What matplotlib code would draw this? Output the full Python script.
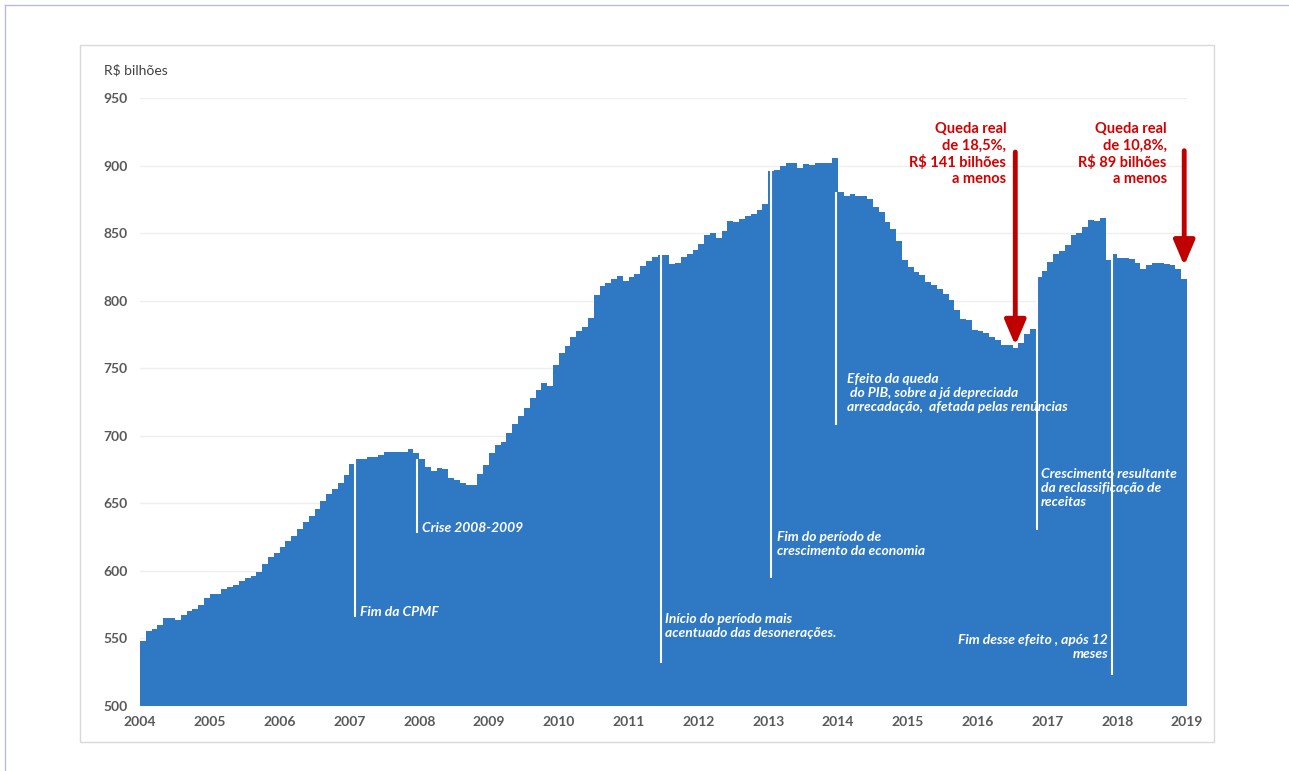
import numpy as np
import matplotlib
matplotlib.use("Agg")
import matplotlib.pyplot as plt
from matplotlib.patches import Rectangle
from matplotlib.lines import Line2D

plt.rcParams['font.family'] = ['Lato', 'DejaVu Sans']

# monthly revenue, R$ billions, Jan 2004 .. Dec 2018
v2004 = [548, 555.5, 557, 560, 565, 565, 564, 567, 570.5, 572, 575, 579.6]
v2005 = [583, 583, 586.5, 588, 589.5, 592.5, 594.4, 596.4, 598.9, 604.8, 610, 613.4]
v2006 = [617.4, 622, 625.7, 631, 636, 640.8, 645.7, 651.9, 656.6, 660.3, 664.7, 670.9]
v2007 = [679, 683, 683, 684, 684, 686, 688, 688, 688, 688, 690, 687]
v2008 = [682.7, 676.8, 673.8, 676.3, 675.3, 668.9, 667.2, 664.7, 663.2, 663.2, 671.6, 678.3]
v2009 = [686.9, 693, 695.5, 702.2, 708.6, 714.7, 720.6, 727.8, 733.7, 738.7, 736.9, 752.2]
v2010 = [760.9, 766.8, 773.2, 777.4, 780.6, 787.5, 804, 810.9, 813.1, 815.8, 818.3, 814.6]
v2011 = [817.5, 820, 825.4, 829.3, 832.6, 834, 834.1, 826.9, 827.9, 832.3, 834.8, 837.7]
v2012 = [841.9, 848.8, 850, 846.3, 851.3, 858.7, 858.2, 860.7, 862.9, 864.4, 867.4, 871.8]
v2013 = [896, 897, 900, 902.2, 902.2, 898.2, 901.2, 900.2, 901.7, 901.7, 901.7, 905.3]
v2014 = [880.4, 877.7, 879.2, 877.4, 877.4, 875, 869.3, 865.4, 858.2, 853.3, 843.9, 830.4]
v2015 = [825, 821.3, 818.8, 813.9, 811.9, 809, 804.7, 800.3, 793, 786.2, 785.5, 778.6]
v2016 = [777.4, 775.7, 773.2, 770.7, 767.5, 767.5, 764.6, 768.7, 775, 778.9, 817.5, 822]
v2017 = [828.7, 834.8, 836.8, 841, 848.4, 850, 854.5, 859.5, 858.7, 861.2, 829.9, 834.8]
v2018 = [831.6, 831.6, 830.6, 828.2, 823.8, 826.7, 827.9, 827.9, 827, 826.2, 823.8, 816.4]

values = (v2004 + v2005 + v2006 + v2007 + v2008 + v2009 + v2010 + v2011 +
          v2012 + v2013 + v2014 + v2015 + v2016 + v2017 + v2018)
months = 2004 + np.arange(len(values)) / 12.0
years = list(range(2004, 2020))

# annotations (white lines + texts)
note_x = [2007.08, 2007.97, 2011.46, 2013.04, 2013.97, 2016.85, 2017.93]
note_bottom = [566, 628, 532, 595, 708, 630, 523]
note_texts = ["Fim da CPMF",
              "Crise 2008-2009",
              "Início do período mais\nacentuado das desonerações.",
              "Fim do período de\ncrescimento da economia",
              "Efeito da queda\n do PIB, sobre a já depreciada\narrecadação,  afetada pelas renúncias",
              "Crescimento resultante\nda reclassificação de\nreceitas",
              "Fim desse efeito , após 12\nmeses"]
note_tx = [2007.15, 2008.04, 2011.52, 2013.13, 2014.13, 2016.91, 2017.87]
note_ty = [569.5, 631.7, 559.5, 620, 731.5, 661.2, 543.3]
note_ha = ['left', 'left', 'left', 'left', 'left', 'left', 'right']

red_texts = ["Queda real\nde 18,5%,\nR$ 141 bilhões\na menos",
             "Queda real\nde 10,8%,\nR$ 89 bilhões\na menos"]
red_tx = [2016.41, 2018.71]
arrow_x = [2016.54, 2018.96]
arrow_from = [910, 911]
arrow_to = [767, 826]

bar_color = '#2E78C4'
red = '#C00000'

fig = plt.figure(figsize=(12.89, 7.71), dpi=100)
ax = fig.add_axes([140 / 1289, 65 / 771, 1047 / 1289, 608 / 771])

ax.bar(months, values, width=1 / 12.0, align='edge', color=bar_color,
       edgecolor='none', zorder=2)

ax.set_xlim(2004, 2019)
ax.set_ylim(500, 950)
ax.set_yticks(range(500, 951, 50))
ax.set_xticks(years)
ax.set_xticklabels([str(y) for y in years])
ax.tick_params(length=0, labelsize=10, labelcolor='#595959')
ax.tick_params(axis='y', pad=9)
ax.tick_params(axis='x', pad=7)
for lab in ax.get_xticklabels() + ax.get_yticklabels():
    lab.set_fontweight('bold')
ax.grid(axis='y', color='#EFEFEF', lw=1, zorder=0)
for s in ax.spines.values():
    s.set_visible(False)

for x, yb, t, tx, ty, ha in zip(note_x, note_bottom, note_texts, note_tx, note_ty, note_ha):
    top = values[int(round((x - 2004) * 12))]
    ax.vlines(x, yb, top, color='white', lw=1.5, zorder=3)
    ax.text(tx, ty, t, color='white', fontsize=10, fontweight='bold',
            fontstyle='italic', ha=ha, va='center', multialignment=ha,
            linespacing=1.2, zorder=4)

for t, tx, ax_x, y0, y1 in zip(red_texts, red_tx, arrow_x, arrow_from, arrow_to):
    ax.text(tx, 908.3, t, color='#D40000', fontsize=10.5, fontweight='bold',
            ha='right', va='center', multialignment='right', linespacing=1.2)
    ax.annotate('', xy=(ax_x, y1), xytext=(ax_x, y0),
                arrowprops=dict(arrowstyle='-|>,head_width=0.32,head_length=0.75',
                                lw=3.5, color=red, mutation_scale=20,
                                shrinkA=0, shrinkB=0), zorder=5)

fig.text(104 / 1289, 1 - 70 / 771, "R$ bilhões", fontsize=10, color='#404040',
         va='center', ha='left')

# chart frame
fig.patches.append(Rectangle((80 / 1289, 1 - 742 / 771), 1134 / 1289, 697 / 771,
                             transform=fig.transFigure, fill=False,
                             edgecolor='#D9D9D9', lw=1))
fig.lines.append(Line2D([5 / 1289, 5 / 1289], [0, 1 - 5 / 771],
                        transform=fig.transFigure, color='#B8BFCC', lw=1))
fig.lines.append(Line2D([5 / 1289, 1], [1 - 5 / 771, 1 - 5 / 771],
                        transform=fig.transFigure, color='#B8BFCC', lw=1))

fig.savefig('out.png', dpi=100)
